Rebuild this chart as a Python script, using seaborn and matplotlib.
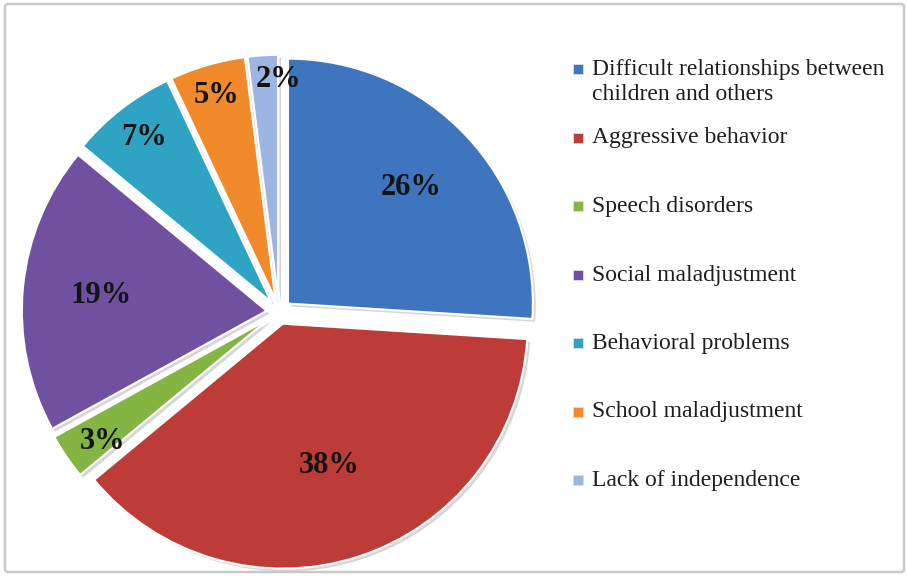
import matplotlib
matplotlib.use("Agg")
import matplotlib.pyplot as plt
import matplotlib.patheffects as pe
from matplotlib.patches import FancyBboxPatch
import numpy as np
import seaborn as sns

# Data
categories = [
    "Difficult relationships between\nchildren and others",
    "Aggressive behavior",
    "Speech disorders",
    "Social maladjustment",
    "Behavioral problems",
    "School maladjustment",
    "Lack of independence",
]
shares = [26, 38, 3, 19, 7, 5, 2]
colors = ["#3F74BE", "#BE3C37", "#84B441", "#7050A0", "#2FA3C3", "#F08A2A", "#9DB5E2"]

# Radial position of each percentage label, as a fraction of the radius,
# plus a small nudge (in points) for crowded slices
label_dist = [0.69, 0.61, 0.86, 0.68, 0.85, 0.87, 0.90]
label_nudge = [(0, 0), (0, 0), (6, -3), (0, 0), (0, 0), (0, 0), (10, 0)]

sns.set_theme(style="white")
plt.rcParams["font.family"] = ["Liberation Serif", "DejaVu Serif"]

W, H = 907, 576
fig = plt.figure(figsize=(W / 100, H / 100), dpi=100)
fig.patch.set_facecolor("white")

# Rounded light-grey frame around the chart area
frame = FancyBboxPatch((5 / W, 4 / H), (W - 8) / W, (H - 8) / H,
                       boxstyle="round,pad=0,rounding_size=0.004",
                       transform=fig.transFigure, facecolor="none",
                       edgecolor="#C9C9C9", linewidth=1.8, zorder=0)
fig.patches.append(frame)

# Pie axes
cx, cy, half = 279, 312, 259.7
ax = fig.add_axes([(cx - half) / W, (H - cy - half) / H, 2 * half / W, 2 * half / H])
palette = sns.color_palette(colors)
explode = [0.05] * len(shares)
wedges, _ = ax.pie(shares, colors=palette, startangle=90, counterclock=False,
                   explode=explode, radius=1.0,
                   wedgeprops=dict(edgecolor="#FFFFFF", linewidth=1.6))
for w in wedges:
    w.set_path_effects([pe.SimplePatchShadow(offset=(2, -2), shadow_rgbFace="#888888", alpha=0.35),
                        pe.Normal()])
ax.set_xlim(-1.06, 1.06)
ax.set_ylim(-1.06, 1.06)
ax.set_aspect("equal")
ax.axis("off")

# Percentage labels placed along each wedge's bisector
for w, val, d, e, nd in zip(wedges, shares, label_dist, explode, label_nudge):
    mid = np.deg2rad((w.theta1 + w.theta2) / 2)
    r = e + d
    ax.annotate(f"{val}%", (r * np.cos(mid), r * np.sin(mid)), xytext=nd,
                textcoords="offset points", ha="center", va="center",
                fontsize=22, fontweight="bold", color="#141414")

# Legend on the right, one row per category
lx, ly0, dy = 578, 69, 68.5
for i, (lab, c) in enumerate(zip(categories, colors)):
    y = ly0 + i * dy
    fig.patches.append(FancyBboxPatch(((lx - 5) / W, (H - y - 5) / H), 10 / W, 10 / H,
                                      boxstyle="square,pad=0", transform=fig.transFigure,
                                      facecolor=c, edgecolor="#DDDDDD", linewidth=0.6))
    fig.text((lx + 14) / W, (H - y + 10) / H, lab, ha="left", va="top",
             fontsize=17, color="#1E1E1E", linespacing=1.25)

fig.savefig("out.png", dpi=100, facecolor="white")
